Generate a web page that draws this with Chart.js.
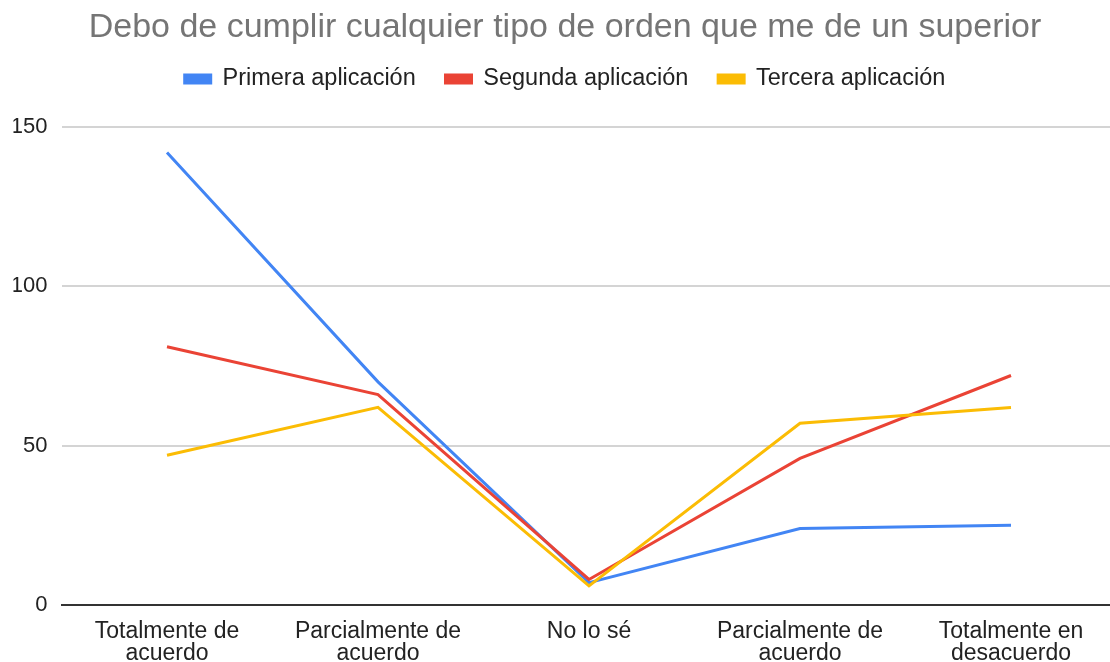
<!DOCTYPE html>
<html>
<head>
<meta charset="utf-8">
<script src="https://cdn.jsdelivr.net/npm/chart.js@4"></script>
<style>
  html, body { margin: 0; padding: 0; overflow: hidden; background: #fff; }
  #wrap { width: 1130px; height: 662px; }
</style>
</head>
<body>
<div id="wrap"><canvas id="chart"></canvas></div>
<script>
// Chart data
const chartTitle = 'Debo de cumplir cualquier tipo de orden que me de un superior';
const categories = [
    ['Totalmente de', 'acuerdo'],
    ['Parcialmente de', 'acuerdo'],
    'No lo sé',
    ['Parcialmente de', 'acuerdo'],
    ['Totalmente en', 'desacuerdo']
];
const seriesNames = ['Primera aplicación', 'Segunda aplicación', 'Tercera aplicación'];
const primera = [142, 70, 7, 24, 25];
const segunda = [81, 66, 8, 46, 72];
const tercera = [47, 62, 6, 57, 62];
const yTicks = [0, 50, 100, 150];

const colors = ['#4285F4', '#EA4335', '#FBBC04'];

Chart.defaults.font.family = '"Liberation Sans", Arial, sans-serif';

function makeSeries(idx, values, order) {
    return {
        label: seriesNames[idx],
        data: values,
        borderColor: colors[idx],
        backgroundColor: colors[idx],
        borderWidth: 3,
        pointRadius: 0,
        tension: 0,
        fill: false,
        order: order
    };
}

const ctx = document.getElementById('chart').getContext('2d');
new Chart(ctx, {
    type: 'line',
    data: {
        labels: categories,
        datasets: [
            makeSeries(0, primera, 3),
            makeSeries(1, segunda, 2),
            makeSeries(2, tercera, 1)
        ]
    },
    options: {
        responsive: true,
        maintainAspectRatio: false,
        animation: false,
        layout: { padding: { left: 13.5, right: 13.5, top: 0, bottom: 0 } },
        plugins: {
            tooltip: { enabled: false },
            title: {
                display: true,
                text: chartTitle,
                color: '#757575',
                font: { size: 34, weight: 'normal', lineHeight: 0.6 },
                padding: { top: 17, bottom: 0 }
            },
            // empty spacer between legend and plot area
            subtitle: {
                display: true,
                text: '',
                weight: 500,
                font: { size: 10, lineHeight: 1.0 },
                padding: { top: 16.25, bottom: 0 }
            },
            legend: {
                position: 'top',
                labels: {
                    boxWidth: 26,
                    boxHeight: 8,
                    padding: 29.75,
                    color: '#222222',
                    font: { size: 23.5 },
                    sort: (a, b) => a.datasetIndex - b.datasetIndex
                }
            }
        },
        scales: {
            x: {
                offset: true,
                grid: { display: false, drawTicks: false },
                border: { display: true, color: '#333333', width: 2 },
                ticks: {
                    color: '#222222',
                    font: { size: 23, lineHeight: 0.95 },
                    padding: 16,
                    maxRotation: 0,
                    autoSkip: false
                },
                afterFit: (scale) => { scale.height = 57; }
            },
            y: {
                min: 0,
                max: 150,
                grid: { color: '#d4d4d4', lineWidth: 2, drawTicks: false },
                border: { display: false },
                afterBuildTicks: (scale) => { scale.ticks = yTicks.map(v => ({ value: v })); },
                ticks: {
                    color: '#222222',
                    font: { size: 22 },
                    padding: 14
                },
                afterFit: (scale) => { scale.width = 48; }
            }
        }
    }
});
</script>
</body>
</html>
